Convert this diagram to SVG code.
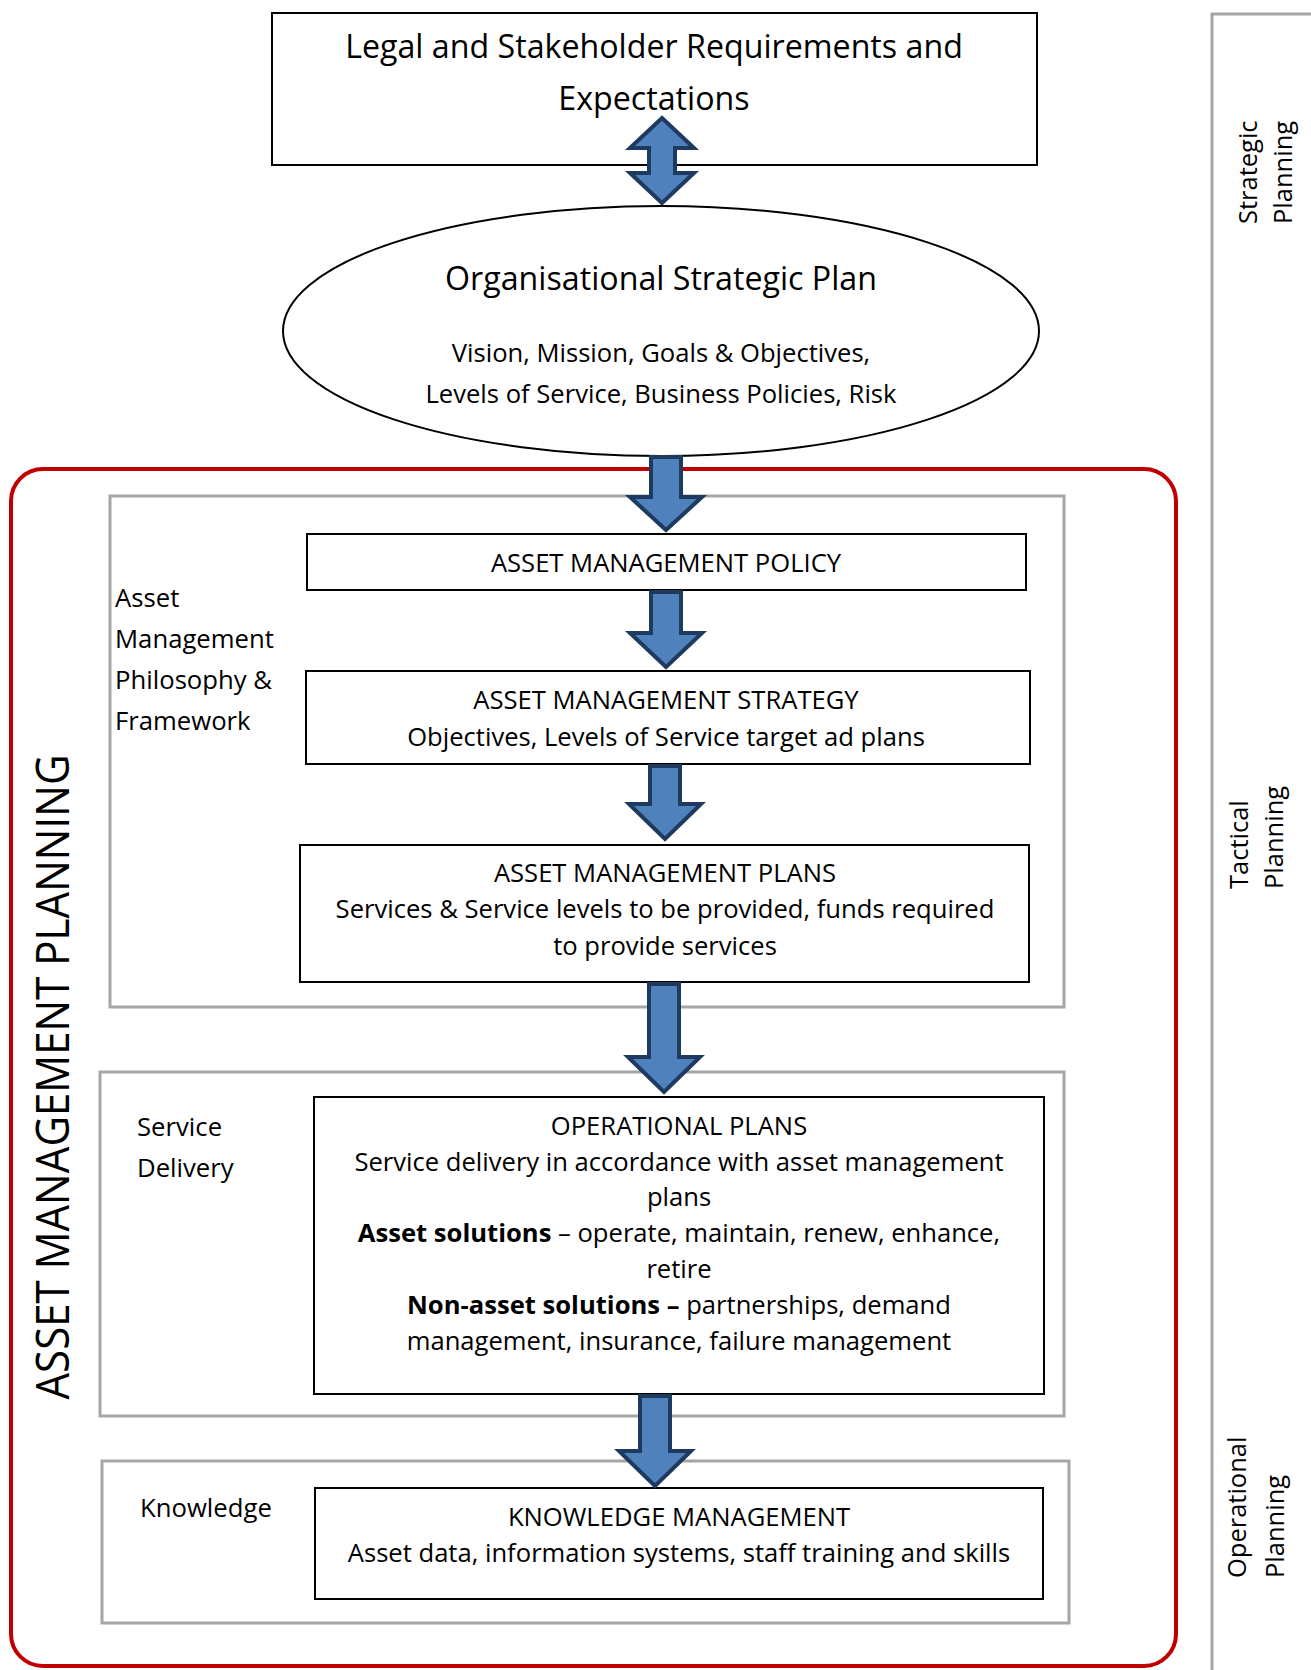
<svg xmlns="http://www.w3.org/2000/svg" width="1311" height="1670" viewBox="0 0 1311 1670">
<style>
  text { font-family: "Open Sans", "Liberation Sans", sans-serif; fill: #000; }
  .box { fill: #fff; stroke: #000; stroke-width: 2; }
  .gray { fill: none; stroke: #A6A6A6; stroke-width: 3; }
  .arrow { fill: #4F81BD; stroke: #1F3A5F; stroke-width: 4; stroke-linejoin: miter; }
  .t { font-size: 25.6px; text-anchor: middle; }
  .lbl { font-size: 25.7px; }
  .rl { font-size: 25.5px; }
  .big { font-size: 32.2px; text-anchor: middle; }
  .b { font-weight: bold; }
</style>
<rect width="1311" height="1670" fill="#fff"/>
<g id="frame-strategic-axis">
  <path class="gray" d="M1311,14 L1212,14 L1212,1670"/>
  <text class="rl" transform="translate(1257,224) rotate(-90)">Strategic</text>
  <text class="rl" transform="translate(1292,224) rotate(-90)">Planning</text>
  <text class="rl" transform="translate(1248,889) rotate(-90)">Tactical</text>
  <text class="rl" transform="translate(1283,889) rotate(-90)">Planning</text>
  <text class="rl" transform="translate(1246,1578) rotate(-90)">Operational</text>
  <text class="rl" transform="translate(1284,1578) rotate(-90)">Planning</text>
</g>
<g id="am-planning">
  <rect x="11" y="469" width="1165" height="1197" rx="32" fill="none" stroke="#C00000" stroke-width="4"/>
  <text transform="translate(69,1077) rotate(-90)" font-family="DejaVu Sans, sans-serif" font-size="46" text-anchor="middle" textLength="645" lengthAdjust="spacingAndGlyphs">ASSET MANAGEMENT PLANNING</text>
</g>
<g id="group-philosophy">
  <rect class="gray" x="110" y="496" width="954" height="511"/>
  <text class="lbl" x="115" y="607">Asset</text>
  <text class="lbl" x="115" y="648">Management</text>
  <text class="lbl" x="115" y="689">Philosophy &amp;</text>
  <text class="lbl" x="115" y="730">Framework</text>
</g>
<g id="group-service">
  <rect class="gray" x="100" y="1072" width="964" height="344"/>
  <text class="lbl" x="137" y="1136">Service</text>
  <text class="lbl" x="137" y="1177">Delivery</text>
</g>
<g id="group-knowledge">
  <rect class="gray" x="102" y="1461" width="967" height="162"/>
  <text class="lbl" x="140" y="1517">Knowledge</text>
</g>
<g id="legal">
  <rect class="box" x="272" y="13" width="765" height="152"/>
  <text class="big" x="654" y="58">Legal and Stakeholder Requirements and</text>
  <text class="big" x="654" y="110">Expectations</text>
</g>
<g id="strategic-plan">
  <ellipse class="box" cx="661" cy="331" rx="378" ry="125"/>
  <text class="big" x="661" y="290" font-size="31.4">Organisational Strategic Plan</text>
  <text class="t" x="661" y="362">Vision, Mission, Goals &amp; Objectives,</text>
  <text class="t" x="661" y="403">Levels of Service, Business Policies, Risk</text>
</g>
<g id="policy">
  <rect class="box" x="307" y="534" width="719" height="56"/>
  <text class="t" x="666" y="572">ASSET MANAGEMENT POLICY</text>
</g>
<g id="strategy">
  <rect class="box" x="306" y="671" width="724" height="93"/>
  <text class="t" x="666" y="709">ASSET MANAGEMENT STRATEGY</text>
  <text class="t" x="666" y="746">Objectives, Levels of Service target ad plans</text>
</g>
<g id="plans">
  <rect class="box" x="300" y="845" width="729" height="137"/>
  <text class="t" x="665" y="882">ASSET MANAGEMENT PLANS</text>
  <text class="t" x="665" y="918">Services &amp; Service levels to be provided, funds required</text>
  <text class="t" x="665" y="955">to provide services</text>
</g>
<g id="operational">
  <rect class="box" x="314" y="1097" width="730" height="297"/>
  <text class="t" x="679" y="1135">OPERATIONAL PLANS</text>
  <text class="t" x="679" y="1171">Service delivery in accordance with asset management</text>
  <text class="t" x="679" y="1206">plans</text>
  <text class="t" x="679" y="1242"><tspan class="b">Asset solutions</tspan> – operate, maintain, renew, enhance,</text>
  <text class="t" x="679" y="1278">retire</text>
  <text class="t" x="679" y="1314"><tspan class="b">Non-asset solutions –</tspan> partnerships, demand</text>
  <text class="t" x="679" y="1350">management, insurance, failure management</text>
</g>
<g id="knowledge">
  <rect class="box" x="315" y="1488" width="728" height="111"/>
  <text class="t" x="679" y="1526">KNOWLEDGE MANAGEMENT</text>
  <text class="t" x="679" y="1562">Asset data, information systems, staff training and skills</text>
</g>
<g id="connectors">
  <path class="arrow" d="M662,118 L694,148 L675,148 L675,173 L694,173 L662,203 L630,173 L649,173 L649,148 L630,148 Z"/>
  <path class="arrow" d="M651,457 L681,457 L681,497 L702,497 L666,530 L630,497 L651,497 Z"/>
  <path class="arrow" d="M651,592 L681,592 L681,633 L702,633 L666,667 L630,633 L651,633 Z"/>
  <path class="arrow" d="M650,766 L680,766 L680,804 L701,804 L665,839 L629,804 L650,804 Z"/>
  <path class="arrow" d="M649,984 L679,984 L679,1057 L700,1057 L664,1092 L628,1057 L649,1057 Z"/>
  <path class="arrow" d="M640,1396 L670,1396 L670,1451 L691,1451 L655,1486 L619,1451 L640,1451 Z"/>
</g>
</svg>
